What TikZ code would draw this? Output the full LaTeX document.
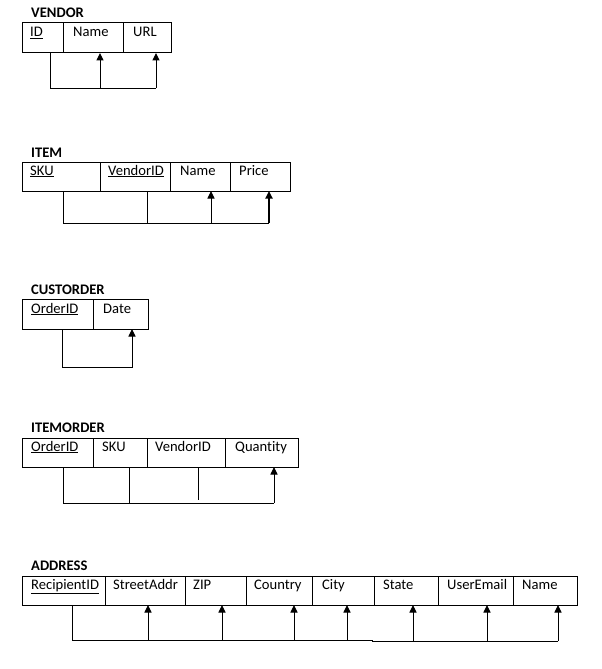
\documentclass[tikz,border=0pt]{standalone}
\usepackage{fontspec}
\setmainfont{Carlito}[Ligatures=NoCommon]
\usetikzlibrary{arrows.meta}
\begin{document}
\begin{tikzpicture}[x=1pt,y=-1pt,
  cell/.style={draw, line width=1pt, anchor=north west, inner sep=0pt, outer sep=0pt},
  fld/.style={anchor=base west, inner sep=0pt, font=\fontsize{14.6}{17}\selectfont},
  ttl/.style={anchor=base west, inner sep=0pt, font=\fontsize{14.6}{17}\selectfont\bfseries},
  link/.style={line width=1pt},
  arr/.style={line width=1pt, -{Triangle[length=7.5pt,width=7pt]}}]
\useasboundingbox (0,0) rectangle (602,669);

% ---------------- VENDOR ----------------
\node[ttl] (v-t) at (31,18) {VENDOR};
\begin{scope}[every node/.append style={minimum height=30pt}]
\node[cell, minimum width=41pt] (v-id)   at (22,23)  {};
\node[cell, minimum width=60pt] (v-name) at (63,23)  {};
\node[cell, minimum width=48pt] (v-url)  at (123,23) {};
\end{scope}
\node[fld] (v-id-t)   at (30,37)  {\underline{ID}};
\node[fld] (v-name-t) at (73,37)  {Name};
\node[fld] (v-url-t)  at (133,37) {URL};
\coordinate (v-b1) at (50,88);
\coordinate (v-b2) at (100,88);
\coordinate (v-b3) at (156,88);
\draw[link] (v-id.south -| v-b1) -- (v-b1) -- (v-b3);
\draw[arr] (v-b2) -- (v-name.south -| v-b2);
\draw[arr] (v-b3) -- (v-url.south -| v-b3);

% ---------------- ITEM ----------------
\node[ttl] (i-t) at (31,157) {ITEM};
\begin{scope}[every node/.append style={minimum height=29pt}]
\node[cell, minimum width=78pt] (i-sku)   at (22,162)  {};
\node[cell, minimum width=70pt] (i-vid)   at (100,162) {};
\node[cell, minimum width=60pt] (i-name)  at (170,162) {};
\node[cell, minimum width=60pt] (i-price) at (230,162) {};
\end{scope}
\node[fld] (i-sku-t)   at (30,175)  {\underline{SKU}};
\node[fld] (i-vid-t)   at (108,175) {\underline{VendorID}};
\node[fld] (i-name-t)  at (180,175) {Name};
\node[fld] (i-price-t) at (239,175) {Price};
\coordinate (i-b1) at (63,223);
\coordinate (i-b2) at (147,223);
\coordinate (i-b3) at (211,223);
\coordinate (i-b4) at (269,223);
\draw[link] (i-sku.south -| i-b1) -- (i-b1) -- (i-b4);
\draw[link] (i-vid.south -| i-b2) -- (i-b2);
\draw[arr] (i-b3) -- (i-name.south -| i-b3);
\draw[arr, line width=1.7pt] (i-b4) -- (i-price.south -| i-b4);

% ---------------- CUSTORDER ----------------
\node[ttl] (c-t) at (31,294) {CUSTORDER};
\begin{scope}[every node/.append style={minimum height=30pt}]
\node[cell, minimum width=71pt] (c-oid)  at (22,299) {};
\node[cell, minimum width=55pt] (c-date) at (93,299) {};
\end{scope}
\node[fld] (c-oid-t)  at (31,313)  {\underline{OrderID}};
\node[fld] (c-date-t) at (103,313) {Date};
\coordinate (c-b1) at (62,367);
\coordinate (c-b2) at (132,367);
\draw[arr] (c-oid.south -| c-b1) -- (c-b1) -- (c-b2) -- (c-date.south -| c-b2);

% ---------------- ITEMORDER ----------------
\node[ttl] (o-t) at (31,432) {ITEMORDER};
\begin{scope}[every node/.append style={minimum height=29pt}]
\node[cell, minimum width=71pt] (o-oid) at (22,438)  {};
\node[cell, minimum width=54pt] (o-sku) at (93,438)  {};
\node[cell, minimum width=78pt] (o-vid) at (147,438) {};
\node[cell, minimum width=73pt] (o-qty) at (225,438) {};
\end{scope}
\node[fld] (o-oid-t) at (31,451)  {\underline{OrderID}};
\node[fld] (o-sku-t) at (102,451) {SKU};
\node[fld] (o-vid-t) at (155,451) {VendorID};
\node[fld] (o-qty-t) at (235,451) {Quantity};
\coordinate (o-b1) at (63,503);
\coordinate (o-b2) at (129,503);
\coordinate (o-e3) at (198,500);
\coordinate (o-b4) at (274,503);
\draw[link] (o-oid.south -| o-b1) -- (o-b1) -- (o-b4);
\draw[link] (o-sku.south -| o-b2) -- (o-b2);
\draw[link] (o-vid.south -| o-e3) -- (o-e3);
\draw[arr] (o-b4) -- (o-qty.south -| o-b4);

% ---------------- ADDRESS ----------------
\node[ttl] (a-t) at (31,570) {ADDRESS};
\begin{scope}[every node/.append style={minimum height=29pt}]
\node[cell, minimum width=83pt] (a-rid)   at (22,576)  {};
\node[cell, minimum width=80pt] (a-st)    at (105,576) {};
\node[cell, minimum width=61pt] (a-zip)   at (185,576) {};
\node[cell, minimum width=66pt] (a-cty)   at (246,576) {};
\node[cell, minimum width=62pt] (a-city)  at (312,576) {};
\node[cell, minimum width=64pt] (a-state) at (374,576) {};
\node[cell, minimum width=75pt] (a-mail)  at (438,576) {};
\node[cell, minimum width=64pt] (a-name)  at (513,576) {};
\end{scope}
\node[fld] (a-rid-t)   at (31,589)  {\underline{RecipientID}};
\node[fld] (a-st-t)    at (113,589) {StreetAddr};
\node[fld] (a-zip-t)   at (193,589) {ZIP};
\node[fld] (a-cty-t)   at (254,589) {Country};
\node[fld] (a-city-t)  at (322,589) {City};
\node[fld] (a-state-t) at (383,589) {State};
\node[fld] (a-mail-t)  at (447,589) {UserEmail};
\node[fld] (a-name-t)  at (522,589) {Name};
\coordinate (a-b1) at (72,640);
\coordinate (a-b2) at (148,640);
\coordinate (a-b3) at (222,640);
\coordinate (a-b4) at (294,640);
\coordinate (a-b5) at (347,640);
\coordinate (a-s1) at (372,640);
\coordinate (a-s2) at (372,641);
\coordinate (a-b6) at (413,641);
\coordinate (a-b7) at (487,641);
\coordinate (a-b8) at (558,641);
\draw[link] (a-rid.south -| a-b1) -- (a-b1) -- (a-s1) -- (a-s2) -- (a-b8);
\draw[arr] (a-b2) -- (a-st.south -| a-b2);
\draw[arr] (a-b3) -- (a-zip.south -| a-b3);
\draw[arr] (a-b4) -- (a-cty.south -| a-b4);
\draw[arr] (a-b5) -- (a-city.south -| a-b5);
\draw[arr] (a-b6) -- (a-state.south -| a-b6);
\draw[arr] (a-b7) -- (a-mail.south -| a-b7);
\draw[arr] (a-b8) -- (a-name.south -| a-b8);
\end{tikzpicture}
\end{document}
